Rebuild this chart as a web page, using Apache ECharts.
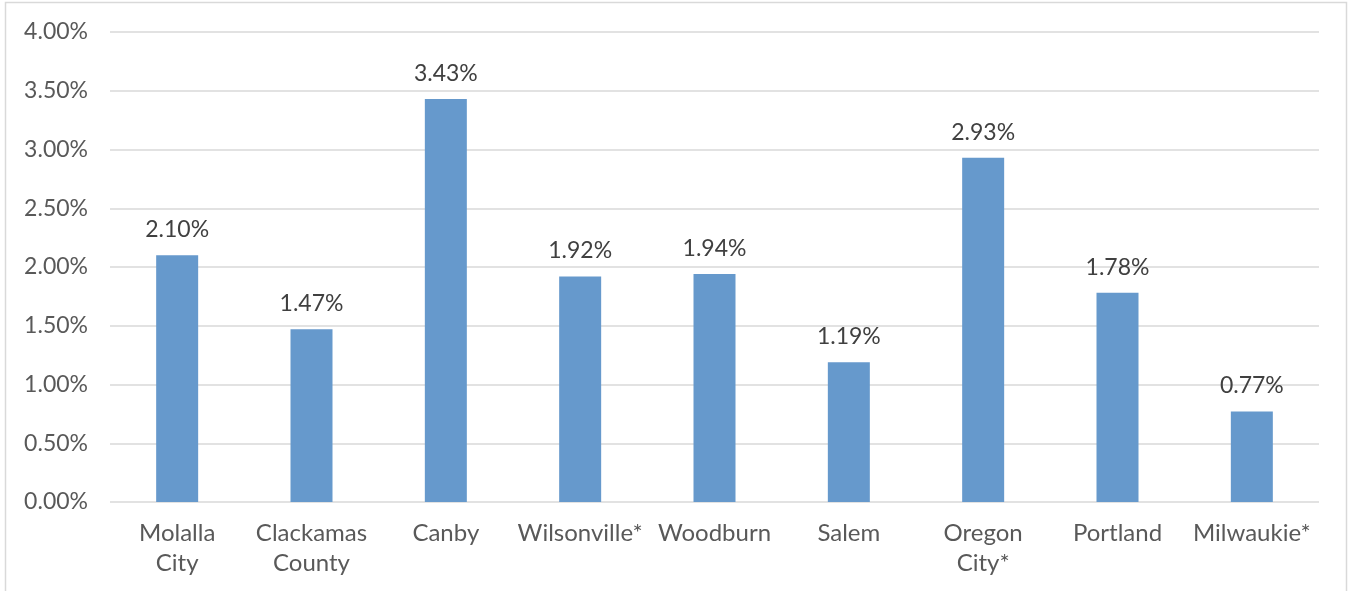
<!DOCTYPE html>
<html><head><meta charset="utf-8">
<script src="https://cdn.jsdelivr.net/npm/echarts@6/dist/echarts.min.js"></script>
<style>html,body{margin:0;padding:0;background:#fff}#c{width:1349px;height:591px}</style>
</head><body><div id="c"></div>
<script>
const categories = ["Molalla\nCity", "Clackamas\nCounty", "Canby", "Wilsonville*", "Woodburn", "Salem", "Oregon\nCity*", "Portland", "Milwaukie*"];
const values = [2.10, 1.47, 3.43, 1.92, 1.94, 1.19, 2.93, 1.78, 0.77];
const yTicks = {min: 0, max: 4, interval: 0.5};
const font = "'Century Gothic', Lato, 'DejaVu Sans', sans-serif";
const chart = echarts.init(document.getElementById('c'), null, {renderer: 'canvas'});
chart.setOption({
  animation: false,
  graphic: [{type: 'rect', shape: {x: 5.5, y: 2.5, width: 1341, height: 600}, style: {fill: 'none', stroke: '#d9d9d9', lineWidth: 1.5}, silent: true}],
  grid: {left: 110, right: 30, top: 32, bottom: 89},
  xAxis: {
    type: 'category', data: categories,
    axisLine: {show: false}, axisTick: {show: false},
    axisLabel: {interval: 0, color: '#595959', fontFamily: font, fontSize: 24, lineHeight: 30, margin: 16}
  },
  yAxis: {
    type: 'value', min: yTicks.min, max: yTicks.max, interval: yTicks.interval,
    axisLine: {show: false}, axisTick: {show: false},
    splitLine: {lineStyle: {color: '#d9d9d9', width: 1.5}},
    axisLabel: {color: '#595959', fontFamily: font, fontSize: 23, margin: 22, formatter: v => v.toFixed(2) + '%'}
  },
  series: [{
    type: 'bar', data: values, barWidth: 42,
    itemStyle: {color: '#6699cc'},
    label: {show: true, position: 'top', distance: 14, color: '#404040', fontFamily: font, fontSize: 23, formatter: p => p.value.toFixed(2) + '%'}
  }]
});
</script></body></html>
